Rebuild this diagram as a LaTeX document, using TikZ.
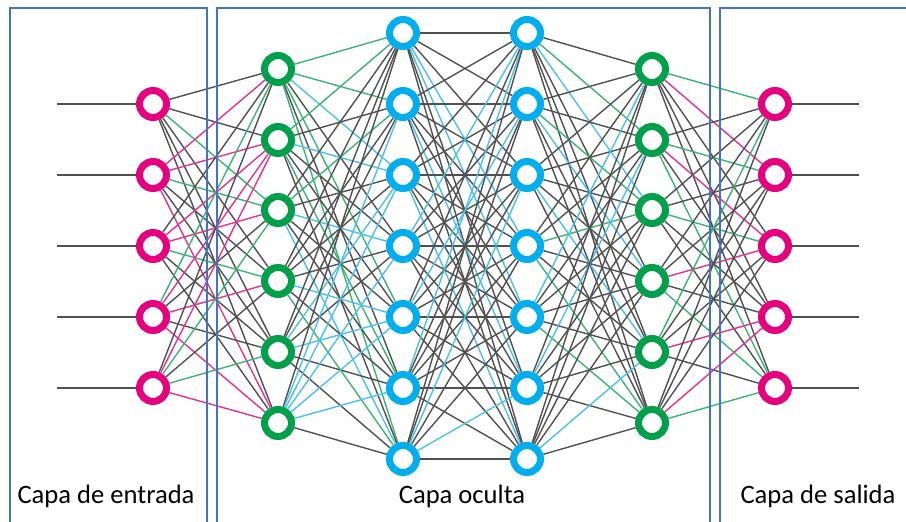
\documentclass[tikz,border=0pt]{standalone}
\usepackage{fontspec}
\setmainfont{Carlito}
\usetikzlibrary{backgrounds}
\definecolor{boxblue}{HTML}{4472C4}
\definecolor{nmag}{HTML}{E6007E}
\definecolor{ngreen}{HTML}{00A04A}
\definecolor{ncyan}{HTML}{00AEEF}
\definecolor{lk}{HTML}{505050}
\definecolor{lg}{HTML}{3DB371}
\definecolor{lm}{HTML}{E2338E}
\definecolor{lc}{HTML}{4CC0EA}
\tikzset{
  neuron/.style={circle,draw,fill=white,line width=7pt,minimum size=27pt,inner sep=0pt},
  magn/.style={neuron,draw=nmag},
  grnn/.style={neuron,draw=ngreen},
  cyan n/.style={neuron,draw=ncyan},
  ek/.style={draw=lk,line width=1.4pt},
  eg/.style={draw=lg,line width=1.4pt},
  em/.style={draw=lm,line width=1.4pt},
  ec/.style={draw=lc,line width=1.4pt},
  layerbox/.style={draw=boxblue,line width=2.6pt},
  caption/.style={anchor=base,font=\fontsize{26.6}{30}\selectfont,text=black}
}
\begin{document}
\begin{tikzpicture}[x=1pt,y=-1pt]
\useasboundingbox (0,0) rectangle (906,522);
\clip (0,0) rectangle (906,522);
% boxes
\draw[layerbox] (10,8) rectangle (207,540);
\draw[layerbox] (217,8) rectangle (710,540);
\draw[layerbox] (720,8) rectangle (930,540);
% nodes
\foreach \y [count=\i] in {104,175,246,317,388} {
  \node[magn] (i\i) at (153,\y) {};
  \node[magn] (o\i) at (775,\y) {};
  \coordinate (in\i) at (57,\y);
  \coordinate (out\i) at (859,\y);
}
\foreach \y [count=\i] in {69,140,210,281,352,423} {
  \node[grnn] (h\i) at (278,\y) {};
  \node[grnn] (r\i) at (652,\y) {};
}
\foreach \y [count=\i] in {33,104,175,246,317,388,459} {
  \node[cyan n] (p\i) at (403,\y) {};
  \node[cyan n] (q\i) at (527,\y) {};
}
\begin{pgfonlayer}{background}
\foreach \i in {1,...,5} {
  \draw[ek] (in\i) -- (i\i);
  \draw[ek] (o\i) -- (out\i);
}
\foreach \s/\cols in {1/{k,k,g,k,k,k},2/{m,m,g,k,k,m},3/{k,m,m,g,k,k},4/{g,m,k,m,k,m},5/{k,m,g,k,g,m}} {
  \foreach \col [count=\j] in \cols { \draw[e\col] (i\s) -- (h\j); }
}
\foreach \s/\cols in {1/{g,g,c,k,g,k,g},2/{g,k,c,k,k,g,k},3/{k,g,k,c,k,k,c},4/{k,k,k,k,c,k,g},5/{k,k,c,k,c,k,k},6/{k,c,c,c,c,c,k}} {
  \foreach \col [count=\j] in \cols { \draw[e\col] (h\s) -- (p\j); }
}
\foreach \s/\cols in {1/{k,k,k,c,c,k,k},2/{k,k,k,k,k,c,k},3/{k,k,k,k,k,k,c},4/{c,k,k,k,k,k,k},5/{k,c,k,k,k,k,k},6/{c,k,k,k,k,k,k},7/{k,k,c,k,k,c,k}} {
  \foreach \col [count=\j] in \cols { \draw[e\col] (p\s) -- (q\j); }
}
\foreach \s/\cols in {1/{k,g,c,k,k,k},2/{k,k,g,c,k,k},3/{k,k,k,k,c,k},4/{k,k,g,k,k,g},5/{c,k,k,k,k,g},6/{k,c,k,k,k,k},7/{k,k,k,k,c,k}} {
  \foreach \col [count=\j] in \cols { \draw[e\col] (q\s) -- (r\j); }
}
\foreach \s/\cols in {1/{g,m,k,k,k},2/{k,g,m,k,g},3/{k,k,g,k,k},4/{k,k,m,k,g},5/{g,k,k,m,k},6/{k,k,k,m,g}} {
  \foreach \col [count=\j] in \cols { \draw[e\col] (r\s) -- (o\j); }
}
\end{pgfonlayer}
% captions
\node[caption] (t1) at (106,503) {Capa de entrada};
\node[caption] (t2) at (462,503) {Capa oculta};
\node[caption] (t3) at (818,503) {Capa de salida};
\end{tikzpicture}
\end{document}
